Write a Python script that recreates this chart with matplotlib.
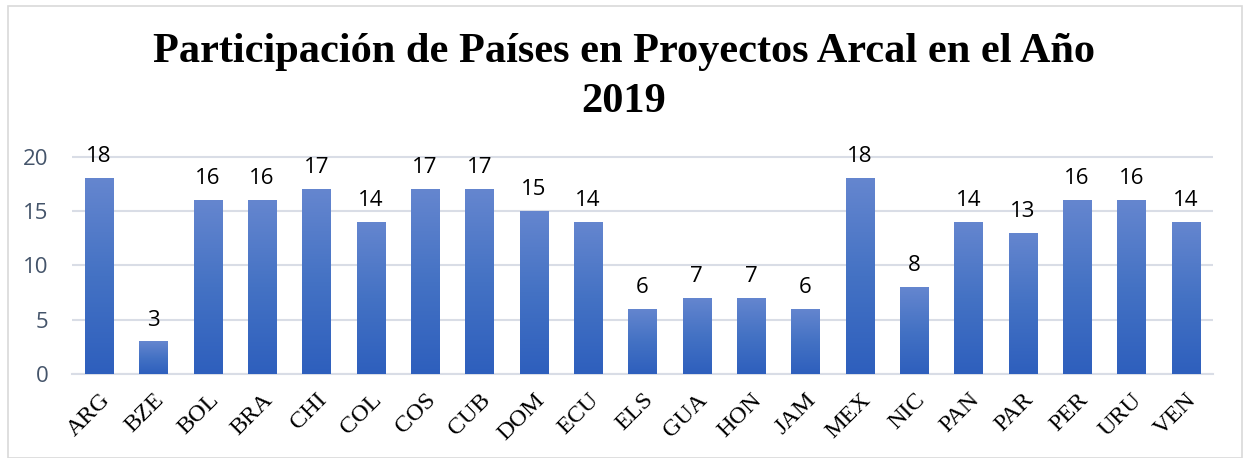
import numpy as np
import matplotlib.pyplot as plt
from matplotlib.colors import LinearSegmentedColormap
from matplotlib.patches import Rectangle

paises = ['ARG', 'BZE', 'BOL', 'BRA', 'CHI', 'COL', 'COS', 'CUB', 'DOM', 'ECU', 'ELS',
          'GUA', 'HON', 'JAM', 'MEX', 'NIC', 'PAN', 'PAR', 'PER', 'URU', 'VEN']
proyectos = [18, 3, 16, 16, 17, 14, 17, 17, 15, 14, 6, 7, 7, 6, 18, 8, 14, 13, 16, 16, 14]
yticks = [0, 5, 10, 15, 20]

fig = plt.figure(figsize=(12.48, 4.58), dpi=100)
ax = fig.add_axes([72/1248, 1 - 374/458, (1213-72)/1248, (374-150)/458])

# borde del grafico
fig.patches.append(Rectangle((8/1248, 0.0), (1242-8)/1248, 1 - 6/458, transform=fig.transFigure,
                             fill=False, edgecolor='#d9d9d9', linewidth=1.2))

x = np.arange(len(paises))
bars = ax.bar(x, proyectos, width=0.52, color='none', zorder=3)

cmap = LinearSegmentedColormap.from_list('azul', ['#2e5fbd', '#4472c4', '#6586cf'])
grad = np.linspace(0, 1, 256).reshape(-1, 1)
for b in bars:
    x0, w, h = b.get_x(), b.get_width(), b.get_height()
    im = ax.imshow(grad, extent=[x0, x0 + w, 0, h], origin='lower', cmap=cmap,
                   aspect='auto', zorder=3)
    im.set_clip_path(b)

for xi, v in zip(x, proyectos):
    ax.text(xi, v + 1.0, str(v), ha='center', va='bottom', fontsize=16,
            family='Open Sans', color='black')

ax.set_xlim(-0.5, len(paises) - 0.5)
ax.set_ylim(0, 20.6)
ax.set_yticks(yticks)
ax.set_yticklabels([str(t) for t in yticks], fontsize=16, family='Open Sans', color='#44546a')
ax.set_xticks(x)
ax.set_xticklabels(paises, rotation=45, ha='right', rotation_mode='anchor',
                   fontsize=17.5, family='Liberation Serif')
ax.tick_params(axis='both', length=0)
ax.tick_params(axis='y', pad=17)
ax.tick_params(axis='x', pad=11)
ax.grid(axis='y', color='#d9dde6', linewidth=1.5, zorder=0)
for s in ['top', 'right', 'left']:
    ax.spines[s].set_visible(False)
ax.spines['bottom'].set_color('#d9dde6')
ax.spines['bottom'].set_linewidth(1.5)

fig.text(0.5, 1 - 52/458, 'Participación de Países en Proyectos Arcal en el Año',
         ha='center', va='center', fontsize=30.5, fontweight='bold', family='Liberation Serif')
fig.text(0.5, 1 - 102/458, '2019', ha='center', va='center', fontsize=30.5,
         fontweight='bold', family='Liberation Serif')

fig.savefig('out.png', dpi=100)
